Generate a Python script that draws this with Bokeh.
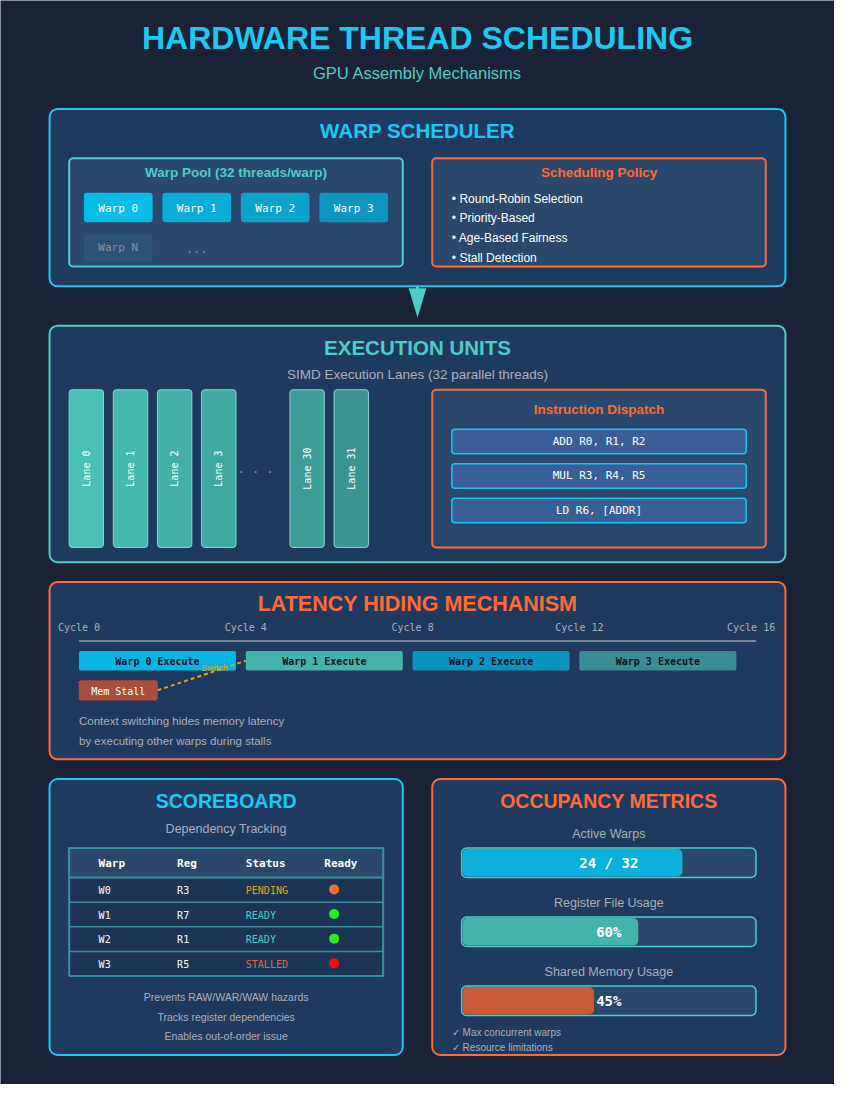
import math
from bokeh.plotting import figure
from bokeh.models import Range1d
from bokeh.core.properties import value
from bokeh.embed import file_html
from bokeh.resources import INLINE

# ---- data ----
warp_names = ["Warp 0", "Warp 1", "Warp 2", "Warp 3"]
policy_items = ["Round-Robin Selection", "Priority-Based", "Age-Based Fairness", "Stall Detection"]
lane_ids = [0, 1, 2, 3, 30, 31]
instructions = ["ADD R0, R1, R2", "MUL R3, R4, R5", "LD R6, [ADDR]"]
cycles = [0, 4, 8, 12, 16]
timeline_warps = ["Warp 0 Execute", "Warp 1 Execute", "Warp 2 Execute", "Warp 3 Execute"]
timeline_colors = ["#06b6e0", "#45b3ad", "#0c93bf", "#3a8c97"]
sb_header = ["Warp", "Reg", "Status", "Ready"]
sb_warp = ["W0", "W1", "W2", "W3"]
sb_reg = ["R3", "R7", "R1", "R5"]
sb_status = ["PENDING", "READY", "READY", "STALLED"]
sb_status_color = ["#e8a020", "#4ecdc4", "#4ecdc4", "#e8643c"]
sb_ready_color = ["#ff6b35", "#22ee22", "#22ee22", "#ff0a0a"]
sb_notes = ["Prevents RAW/WAR/WAW hazards", "Tracks register dependencies", "Enables out-of-order issue"]
occ_labels = ["Active Warps", "Register File Usage", "Shared Memory Usage"]
occ_values = [24 / 32, 0.60, 0.45]
occ_text = ["24 / 32", "60%", "45%"]
occ_colors = ["#0cb0dc", "#45b3ad", "#c85a35"]
occ_notes = ["✓ Max concurrent warps", "✓ Resource limitations"]

CYAN = "#1ec8f0"
TEAL = "#4ecdc4"
ORANGE = "#ff6b35"
PANEL = "#1f3a5f"
INNER = "#29486b"
GRAY = "#a8b0bc"
SANS = "Liberation Sans"
MONO = "DejaVu Sans Mono"

p = figure(width=834, height=1084, output_backend="svg", toolbar_location=None,
           x_range=Range1d(0, 850), y_range=Range1d(1100, 0), min_border=0)
p.axis.visible = False
p.grid.visible = False
p.outline_line_color = None
p.background_fill_color = "#1a2238"
p.border_fill_color = "#1a2238"


def box(l, r, t, b, fill, line=None, lw=2, radius=8, dash="solid", alpha=1.0):
    p.quad(left=[l], right=[r], top=[t], bottom=[b], fill_color=fill, fill_alpha=alpha,
           line_color=line, line_width=lw, border_radius=radius, line_dash=dash)


def txt(x, y, s, size, color, font=SANS, bold=False, align="center", angle=0.0):
    p.text(x=[x], y=[y], text=[s], text_font=value(font), text_font_size=f"{size}px",
           text_color=color, text_font_style="bold" if bold else "normal",
           text_align=align, text_baseline="middle", angle=angle)


# title
txt(425, 38, "HARDWARE THREAD SCHEDULING", 32, CYAN, bold=True)
txt(425, 74, "GPU Assembly Mechanisms", 16.5, TEAL)

# ---- warp scheduler ----
box(50, 800, 110, 290, PANEL, CYAN)
txt(425, 132, "WARP SCHEDULER", 20.5, CYAN, bold=True)
box(70, 410, 160, 270, INNER, TEAL, radius=4)
txt(240, 175, "Warp Pool (32 threads/warp)", 13.5, TEAL, bold=True)
warp_fill = ["#08bce6", "#0aaed8", "#0ca2cc", "#0e95c0"]
for i, w in enumerate(warp_names):
    x0 = 85 + 80 * i
    box(x0, x0 + 70, 195, 225, warp_fill[i], None, radius=3)
    txt(x0 + 35, 211, w, 11, "white", font=MONO)
box(85, 155, 237, 265, "#2d5274", None, radius=3)
txt(120, 251, "Warp N", 11, "#7f93a8", font=MONO)
txt(200, 252, "...", 12, "#7f93a8", font=MONO)
box(440, 780, 160, 270, INNER, ORANGE, radius=4)
txt(610, 175, "Scheduling Policy", 13.5, ORANGE, bold=True)
for i, item in enumerate(policy_items):
    txt(460, 201 + 20 * i, "• " + item, 12, "white", align="left")

# arrow
p.segment(x0=[425], y0=[290], x1=[425], y1=[305], line_color=TEAL, line_width=3)
p.patch(x=[416, 434, 425], y=[292, 292, 322], fill_color=TEAL, line_color=None)

# ---- execution units ----
box(50, 800, 330, 570, PANEL, TEAL)
txt(425, 352, "EXECUTION UNITS", 20.5, TEAL, bold=True)
txt(425, 380, "SIMD Execution Lanes (32 parallel threads)", 13.5, GRAY)
lane_x = [70, 115, 160, 205, 295, 340]
lane_fill = ["#48c0b8", "#45b8b0", "#42b0a8", "#3fa8a2", "#3c9c98", "#3a9492"]
for i, lid in enumerate(lane_ids):
    x0 = lane_x[i]
    box(x0, x0 + 35, 395, 555, lane_fill[i], "#8fd8d2", lw=1, radius=3)
    txt(x0 + 17.5, 475, f"Lane {lid}", 10, "white", font=MONO, angle=math.pi / 2)
txt(260, 478, "· · ·", 12, "#7f93a8", font=MONO)
box(440, 780, 395, 555, INNER, ORANGE, radius=4)
txt(610, 415, "Instruction Dispatch", 13.5, ORANGE, bold=True)
for i, ins in enumerate(instructions):
    y0 = 435 + 35 * i
    box(460, 760, y0, y0 + 25, "#3a5f96", "#1ec4ee", lw=1.5, radius=3)
    txt(610, y0 + 12.5, ins, 11, "white", font=MONO)

# ---- latency hiding ----
box(50, 800, 590, 770, PANEL, ORANGE)
txt(425, 612, "LATENCY HIDING MECHANISM", 21.5, ORANGE, bold=True)
cycle_x = [80, 250, 420, 590, 765]
for i, c in enumerate(cycles):
    txt(cycle_x[i], 636, f"Cycle {c}", 10, GRAY, font=MONO)
p.segment(x0=[80], y0=[650], x1=[770], y1=[650], line_color="#7a8494", line_width=2)
for i, w in enumerate(timeline_warps):
    x0 = 80 + 170 * i
    box(x0, x0 + 160, 660, 680, timeline_colors[i], None, radius=2)
    txt(x0 + 80, 671, w, 10, "#0d1424", font=MONO, bold=True)
box(80, 160, 690, 710, "#a8503e", "#c23a3a", lw=1, radius=2, dash="2 2")
txt(120, 701, "Mem Stall", 10, "white", font=MONO)
p.segment(x0=[160], y0=[700], x1=[250], y1=[670], line_color="#e0a020", line_width=2, line_dash="4 3")
txt(218, 677, "Switch", 9, "#e0a020")
txt(80, 731, "Context switching hides memory latency", 11.5, GRAY, align="left")
txt(80, 751, "by executing other warps during stalls", 11.5, GRAY, align="left")

# ---- scoreboard ----
box(50, 410, 790, 1070, PANEL, CYAN)
txt(230, 812, "SCOREBOARD", 19.5, CYAN, bold=True)
txt(230, 841, "Dependency Tracking", 12.5, GRAY)
box(70, 390, 860, 990, "#1c3557", "#3d8f9c", lw=2, radius=0)
box(70, 390, 860, 890, INNER, "#3d8f9c", lw=2, radius=0)
col_x = [100, 180, 250, 330]
for i, h in enumerate(sb_header):
    txt(col_x[i], 876, h, 11, "white", font=MONO, bold=True, align="left")
for i in range(len(sb_warp)):
    yc = 903 + 25 * i
    if i > 0:
        p.segment(x0=[70], y0=[890 + 25 * i], x1=[390], y1=[890 + 25 * i], line_color="#3d8f9c", line_width=1.5)
    txt(col_x[0], yc, sb_warp[i], 10, "white", font=MONO, align="left")
    txt(col_x[1], yc, sb_reg[i], 10, "white", font=MONO, align="left")
    txt(col_x[2], yc, sb_status[i], 10, sb_status_color[i], font=MONO, align="left")
    p.scatter(x=[340], y=[yc - 1], size=10, fill_color=sb_ready_color[i], line_color=None)
for i, n in enumerate(sb_notes):
    txt(230, 1011 + 20 * i, n, 10.5, GRAY)

# ---- occupancy ----
box(440, 800, 790, 1070, PANEL, ORANGE)
txt(620, 812, "OCCUPANCY METRICS", 19.5, ORANGE, bold=True)
for i, lab in enumerate(occ_labels):
    yl = 846 + 70 * i
    y0 = 860 + 70 * i
    txt(620, yl, lab, 12.5, GRAY)
    box(470, 770, y0, y0 + 30, INNER, TEAL, lw=1.5, radius=5)
    box(471, 470 + 300 * occ_values[i], y0 + 1, y0 + 29, occ_colors[i], None, radius=5)
    txt(620, y0 + 15, occ_text[i], 14, "white", font=MONO, bold=True)
for i, n in enumerate(occ_notes):
    txt(460, 1047 + 15 * i, n, 10, GRAY, align="left")

open("out.html", "w").write(file_html(p, INLINE))
